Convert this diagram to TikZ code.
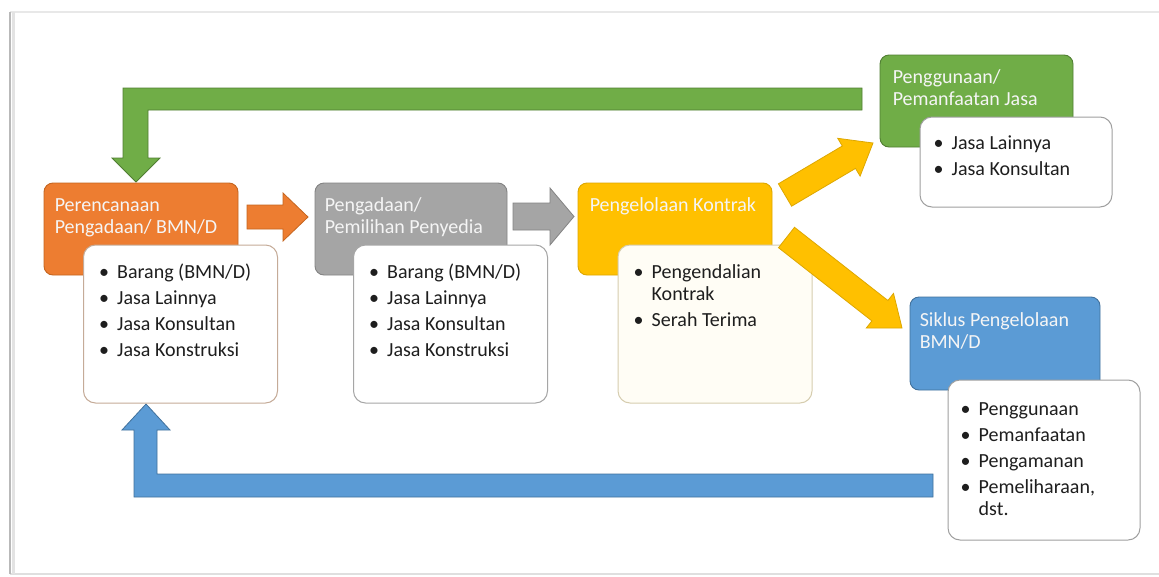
\documentclass[tikz,border=0pt]{standalone}
\usepackage{fontspec}
\setmainfont{Carlito}
\definecolor{cOr}{HTML}{ED7D31}
\definecolor{cOrD}{HTML}{C5651F}
\definecolor{cGy}{HTML}{A5A5A5}
\definecolor{cGyD}{HTML}{838383}
\definecolor{cYl}{HTML}{FFC000}
\definecolor{cYlD}{HTML}{DDA700}
\definecolor{cGr}{HTML}{70AD47}
\definecolor{cGrD}{HTML}{507E32}
\definecolor{cBl}{HTML}{5B9BD5}
\definecolor{cBlD}{HTML}{41719C}
\definecolor{cTx}{HTML}{1E1E1E}
\definecolor{cCream}{HTML}{FFFDF5}
\newcommand\blt{\strut\makebox[18pt][l]{\textbullet}}
\newcommand\cnt{\strut\hspace*{18pt}}
\begin{document}
\begin{tikzpicture}[x=1pt,y=-1pt,
  hdrbox/.style={rectangle, rounded corners=9pt, line width=0.9pt, minimum width=194pt, minimum height=92pt, inner sep=0pt},
  whitebox/.style={rectangle, rounded corners=12pt, line width=1pt, fill=white, minimum width=194pt, minimum height=158pt, inner sep=0pt},
  hdrtext/.style={anchor=north west, inner sep=0pt, align=left, text=white!96!black, font=\fontsize{20}{22}\selectfont},
  bodytext/.style={anchor=north west, inner sep=0pt, align=left, text=cTx, font=\fontsize{20}{22}\selectfont},
  blockarrow/.style={line width=0.8pt, line join=miter}
]
\useasboundingbox (0,0) rectangle (1159,576);
\fill[white] (0,0) rectangle (1159,576);
% page frame
\draw[gray!18, line width=1.5pt] (10,12) -- (1159,12);
\draw[gray!25, line width=1.2pt] (10,574) -- (1159,574);
\draw[gray!22, line width=3pt] (13,12) -- (13,574);
\draw[gray!55, line width=1.5pt] (10,12) -- (10,574);

% bent arrows
\fill[cGr, draw=cGrD, blockarrow] (862,88) -- (123,88) -- (123,158) -- (112,158) -- (136,182) -- (160,158) -- (148,158) -- (148,110) -- (862,110) -- cycle;
\fill[cBl, draw=cBlD, blockarrow] (933,497) -- (134,497) -- (134,430) -- (122,430) -- (146,404) -- (170,430) -- (157,430) -- (157,474) -- (933,474) -- cycle;

% straight arrows
\fill[cOr, draw=cOrD, blockarrow] (247,205) -- (283,205) -- (283,193) -- (308,217) -- (283,241) -- (283,229) -- (247,229) -- cycle;
\fill[cGy, draw=cGyD, blockarrow] (513,203) -- (550,203) -- (550,188) -- (574,216.5) -- (550,245) -- (550,230) -- (513,230) -- cycle;

% header boxes
\node[hdrbox, fill=cOr, draw=cOrD] (h1) at (141,229) {};
\node[hdrbox, fill=cGy, draw=cGyD, minimum width=192pt] (h2) at (411,229) {};
\node[hdrbox, fill=cYl, draw=cYlD] (h3) at (675,229) {};
\node[hdrbox, fill=cGr, draw=cGrD, minimum width=193pt] (h4) at (976.5,101) {};
\node[hdrbox, fill=cBl, draw=cBlD, minimum width=190pt, minimum height=93pt] (h5) at (1005,343.5) {};

% white boxes
\node[whitebox, draw=cOrD!45!gray!60] (w1) at (180.5,324) {};
\node[whitebox, draw=gray!70] (w2) at (450.5,324) {};
\node[whitebox, draw=cYlD!40!gray!45, fill=cCream] (w3) at (715,324) {};
\node[whitebox, draw=gray!75, minimum width=192pt, minimum height=90pt] (w4) at (1016,162) {};
\node[whitebox, draw=gray!75, minimum width=192pt, minimum height=160pt] (w5) at (1044,460) {};

% yellow arrows
\fill[cYl, draw=cYlD, blockarrow] (778.4,183.8) -- (842.3,146.0) -- (837.7,138.3) -- (873,143) -- (860.1,176.1) -- (855.5,168.4) -- (791.6,206.2) -- cycle;
\fill[cYl, draw=cYlD, blockarrow] (778.5,247.7) -- (794.5,227.3) -- (887.9,300.5) -- (893.5,293.4) -- (902,328) -- (866.3,328.0) -- (871.9,320.9) -- cycle;

% header texts
\node[hdrtext] (t1) at ([xshift=11pt,yshift=-13pt]h1.north west) {\strut Perencanaan\\\strut Pengadaan/ BMN/D};
\node[hdrtext] (t2) at ([xshift=10pt,yshift=-13pt]h2.north west) {\strut Pengadaan/\\\strut Pemilihan Penyedia};
\node[hdrtext] (t3) at ([xshift=12pt,yshift=-13pt]h3.north west) {\strut Pengelolaan Kontrak};
\node[hdrtext] (t4) at ([xshift=13pt,yshift=-13pt]h4.north west) {\strut Penggunaan/\\\strut Pemanfaatan Jasa};
\node[hdrtext] (t5) at ([xshift=10pt,yshift=-14pt]h5.north west) {\strut Siklus Pengelolaan\\\strut BMN/D};

% body texts
\node[bodytext] (b1) at ([xshift=16pt,yshift=-18pt]w1.north west) {\blt Barang (BMN/D)\\[4pt]\blt Jasa Lainnya\\[4pt]\blt Jasa Konsultan\\[4pt]\blt Jasa Konstruksi};
\node[bodytext] (b2) at ([xshift=16pt,yshift=-18pt]w2.north west) {\blt Barang (BMN/D)\\[4pt]\blt Jasa Lainnya\\[4pt]\blt Jasa Konsultan\\[4pt]\blt Jasa Konstruksi};
\node[bodytext] (b3) at ([xshift=16pt,yshift=-18pt]w3.north west) {\blt Pengendalian\\\cnt Kontrak\\[4pt]\blt Serah Terima};
\node[bodytext] (b4) at ([xshift=14pt,yshift=-17pt]w4.north west) {\blt Jasa Lainnya\\[4pt]\blt Jasa Konsultan};
\node[bodytext] (b5) at ([xshift=13pt,yshift=-20pt]w5.north west) {\blt Penggunaan\\[4pt]\blt Pemanfaatan\\[4pt]\blt Pengamanan\\[4pt]\blt Pemeliharaan,\\\cnt dst.};
\end{tikzpicture}
\end{document}
